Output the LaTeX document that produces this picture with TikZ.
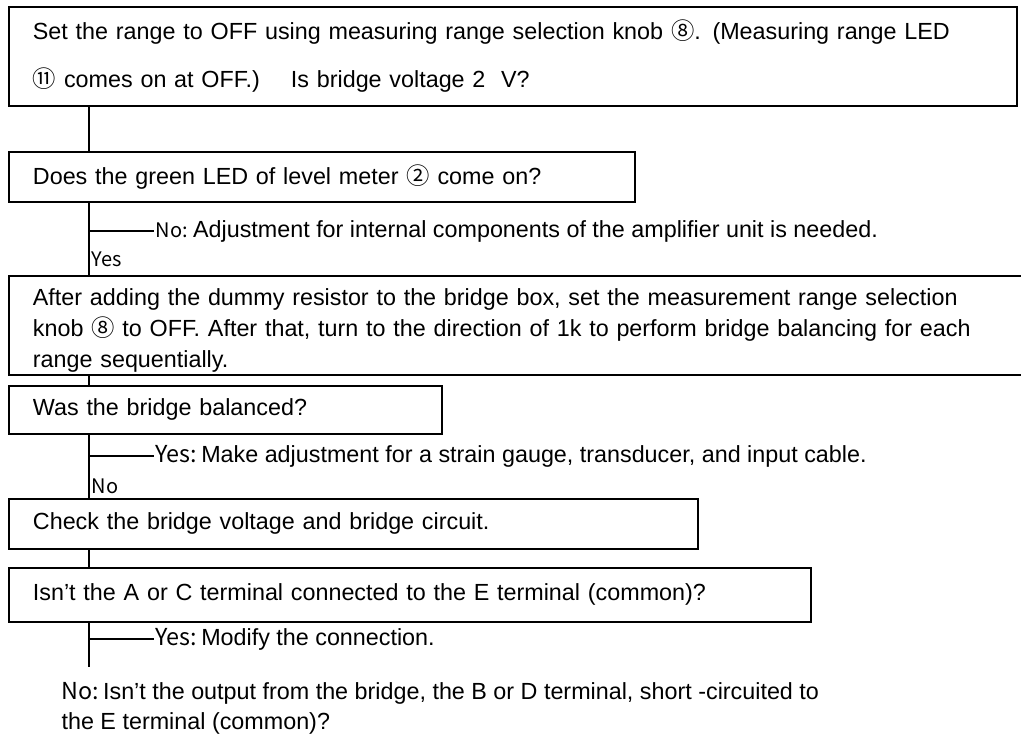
\documentclass[tikz,border=0pt]{standalone}
\usepackage{fontspec}
\setmainfont{Liberation Sans}
\newfontfamily\jpfont{Noto Sans CJK JP}
\usetikzlibrary{positioning}

\newcommand{\cnum}[1]{{\jpfont #1}}
\newcommand{\answord}[1]{{\fontsize{15}{17}\selectfont\jpfont #1}}

\begin{document}
\begin{tikzpicture}[
    x=0.75pt, y=-0.75pt,
    font=\fontsize{17.5}{23.25}\selectfont,
    stepbox/.style={draw, line width=1.4pt, anchor=north west, align=left,
                    inner xsep=18pt, inner ysep=0pt},
    answer/.style={anchor=west, inner sep=1pt, align=left},
    tag/.style={anchor=west, inner sep=1pt, font=\fontsize{15}{17}\selectfont\jpfont},
    link/.style={line width=1pt}
  ]

  \useasboundingbox (0,0) rectangle (1021,734);

  % steps
  \node[stepbox, text width=720pt, minimum height=74.25pt,
        font=\fontsize{17.5}{36}\selectfont] (range) at (8,6)
    {Set the range to OFF using measuring range selection knob \cnum{⑧}. (Measuring range LED\\
     \cnum{⑪} comes on at OFF.)\quad\ Is bridge voltage 2\ \ V?};
  \node[stepbox, text width=433.5pt, minimum height=37.5pt] (green) at (8,151)
    {Does the green LED of level meter \cnum{②} come on?};
  \node[stepbox, text width=725pt, minimum height=74.25pt] (dummy) at (8,275)
    {\rule{0pt}{20.5pt}After adding the dummy resistor to the bridge box, set the measurement range selection\\
     knob \cnum{⑧} to OFF. After that, turn to the direction of 1k to perform bridge balancing for each\\
     range sequentially.};
  \node[stepbox, text width=288.75pt, minimum height=36pt] (balanced) at (8,385)
    {Was the bridge balanced?};
  \node[stepbox, text width=480.75pt, minimum height=37.5pt] (check) at (8,498)
    {Check the bridge voltage and bridge circuit.};
  \node[stepbox, text width=565.5pt, minimum height=40.5pt] (terminal) at (8,567)
    {Isn't the A or C terminal connected to the E terminal (common)?};

  % answers
  \node[answer] (adjust) at (154,231)
    {\answord{No:}\hspace{4pt}Adjustment for internal components of the amplifier unit is needed.};
  \node[tag] (yesone) at (90,259) {Yes};
  \node[answer] (gauge) at (154,456)
    {{\jpfont Yes:}\hspace{3pt}Make adjustment for a strain gauge, transducer, and input cable.};
  \node[tag] (notwo) at (90,486) {No};
  \node[answer] (modify) at (154,639)
    {{\jpfont Yes:}\hspace{3pt}Modify the connection.};
  \node[answer, font=\fontsize{17.5}{22.5}\selectfont] (short) at (60,708)
    {{\jpfont No:}\hspace{3pt}Isn't the output from the bridge, the B or D terminal, short -circuited to\\
     the E terminal (common)?};

  % spine
  \coordinate (spine) at (89,0);
  \coordinate (spineend) at (89,667);

  \draw[link] (range.south -| spine) -- (green.north -| spine);
  \draw[link] (green.south -| spine) -- (dummy.north -| spine);
  \draw[link] (dummy.south -| spine) -- (balanced.north -| spine);
  \draw[link] (balanced.south -| spine) -- (check.north -| spine);
  \draw[link] (check.south -| spine) -- (terminal.north -| spine);
  \draw[link] (terminal.south -| spine) -- (spineend);

  \draw[link] (adjust.west -| spine) -- (adjust.west);
  \draw[link] (gauge.west -| spine) -- (gauge.west);
  \draw[link] (modify.west -| spine) -- (modify.west);

\end{tikzpicture}
\end{document}
